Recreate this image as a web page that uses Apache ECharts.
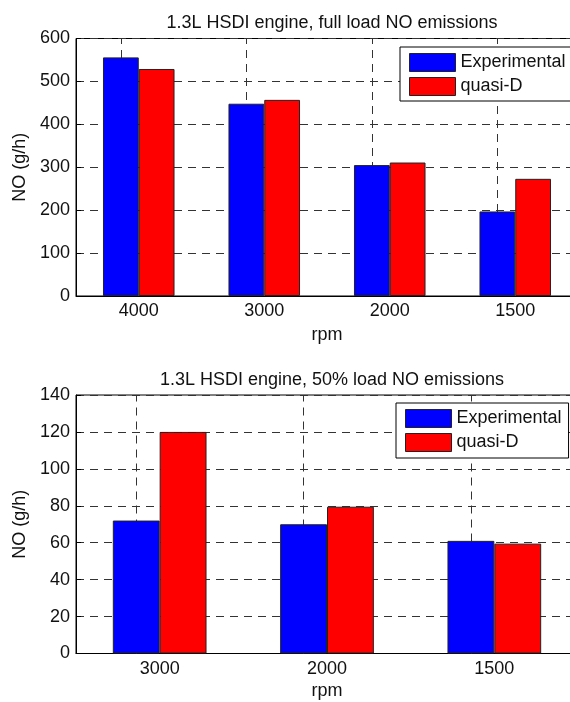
<!DOCTYPE html>
<html>
<head>
<meta charset="utf-8">
<script src="https://cdn.jsdelivr.net/npm/echarts@6/dist/echarts.min.js"></script>
<style>html,body{margin:0;padding:0;background:#fff}#c{width:570px;height:702px}</style>
</head>
<body>
<div id="c"></div>
<script>
// ---- data ----
const seriesNames = ['Experimental', 'quasi-D'];
const fullLoadRpm = ['4000', '3000', '2000', '1500'];
const fullLoadExperimental = [556, 448, 305, 197];
const fullLoadQuasiD = [529, 457, 311, 273];
const halfLoadRpm = ['3000', '2000', '1500'];
const halfLoadExperimental = [72, 70, 61];
const halfLoadQuasiD = [120, 79.5, 59.5];
const fullLoadTicks = {min: 0, max: 600, interval: 100};
const halfLoadTicks = {min: 0, max: 140, interval: 20};
const titles = ['1.3L HSDI engine, full load NO emissions', '1.3L HSDI engine, 50% load NO emissions'];
const xName = 'rpm';
const yName = 'NO (g/h)';

const FONT = '"Liberation Sans", Arial, sans-serif';
const FS = 18;
const chart = echarts.init(document.getElementById('c'), null, {renderer: 'canvas'});

const DASH = [8, 6];
const gridLine = {show: true, lineStyle: {color: '#333', type: DASH, width: 1}};

function xAxis(cats, gridIndex, nameGap, margin) {
  return {
    type: 'category', gridIndex, data: cats,
    name: xName, nameLocation: 'middle', nameGap,
    nameTextStyle: {fontFamily: FONT, fontSize: FS, color: '#111'},
    axisLine: {lineStyle: {color: '#000', width: 1}},
    axisTick: {show: false},
    axisLabel: {fontFamily: FONT, fontSize: FS, color: '#111', margin},
    splitLine: {show: false}
  };
}
function yAxis(t, gridIndex) {
  return {
    type: 'value', gridIndex, min: t.min, max: t.max, interval: t.interval,
    name: yName, nameLocation: 'middle', nameGap: 47,
    nameTextStyle: {fontFamily: FONT, fontSize: FS, color: '#111'},
    axisLine: {show: true, lineStyle: {color: '#000', width: 1}},
    axisTick: {show: true, inside: true, length: 5, lineStyle: {color: '#000'}},
    axisLabel: {fontFamily: FONT, fontSize: FS, color: '#111', margin: 6},
    splitLine: gridLine
  };
}
function vLines(cats) {
  return {
    silent: true, symbol: 'none', z: 1, label: {show: false},
    lineStyle: {color: '#333', type: DASH, width: 1},
    data: cats.map(c => ({xAxis: c}))
  };
}
function bar(name, data, idx, color, cats, withLines) {
  const s = {
    name, type: 'bar', xAxisIndex: idx, yAxisIndex: idx, data,
    barGap: '0%', barCategoryGap: idx === 0 ? '43%' : '44%', z: 3,
    itemStyle: {color, borderColor: '#222', borderWidth: 1},
    emphasis: {disabled: true}
  };
  if (withLines) s.markLine = vLines(cats);
  return s;
}
function legend(top, left, padding) {
  return {
    data: seriesNames, orient: 'vertical', left, top, padding,
    itemWidth: 46, itemHeight: 18, itemGap: 5, icon: 'rect',
    borderColor: '#000', borderWidth: 1, backgroundColor: '#fff',
    itemStyle: {borderColor: '#222', borderWidth: 1},
    textStyle: {fontFamily: FONT, fontSize: FS, color: '#111', padding: [0, 0, 0, 0]},
    selectedMode: false, z: 10
  };
}

chart.setOption({
  animation: false,
  backgroundColor: '#fff',
  title: [
    {text: titles[0], left: 327, top: 9, textAlign: 'center',
     textStyle: {fontFamily: FONT, fontSize: FS, fontWeight: 'normal', color: '#111'}},
    {text: titles[1], left: 327, top: 366, textAlign: 'center',
     textStyle: {fontFamily: FONT, fontSize: FS, fontWeight: 'normal', color: '#111'}}
  ],
  legend: [legend(47, 400, [6, 24, 5, 9]), legend(403, 396, [6, 7, 6, 9])],
  grid: [
    {left: 76, width: 502, top: 38.5, height: 257.5, outerBoundsMode: 'none', containLabel: false,
     show: true, borderColor: '#000', borderWidth: 1, backgroundColor: 'transparent'},
    {left: 76, width: 502, top: 395, height: 258.5, outerBoundsMode: 'none', containLabel: false,
     show: true, borderColor: '#000', borderWidth: 1, backgroundColor: 'transparent'}
  ],
  xAxis: [xAxis(fullLoadRpm, 0, 30, 6), xAxis(halfLoadRpm, 1, 29, 7)],
  yAxis: [yAxis(fullLoadTicks, 0), yAxis(halfLoadTicks, 1)],
  series: [
    bar(seriesNames[0], fullLoadExperimental, 0, '#0000ff', fullLoadRpm, true),
    bar(seriesNames[1], fullLoadQuasiD, 0, '#ff0000', fullLoadRpm, false),
    bar(seriesNames[0], halfLoadExperimental, 1, '#0000ff', halfLoadRpm, true),
    bar(seriesNames[1], halfLoadQuasiD, 1, '#ff0000', halfLoadRpm, false)
  ]
});
</script>
</body>
</html>
